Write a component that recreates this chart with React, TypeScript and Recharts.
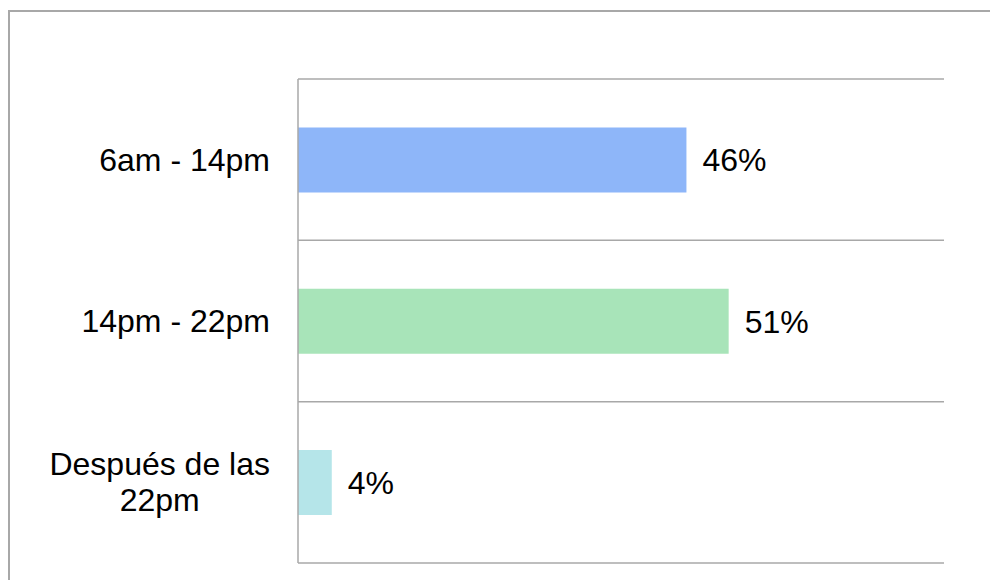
import React from 'react';
import { BarChart, Bar, XAxis, YAxis, CartesianGrid, Cell, LabelList } from 'recharts';

const categories = ['6am - 14pm', '14pm - 22pm', 'Después de las 22pm'];
const categoryLabels = [['6am - 14pm'], ['14pm - 22pm'], ['Después de las', '22pm']];
const values = [46, 51, 4];
const barColors = ['#8EB6F9', '#A8E4B9', '#B5E5E9'];

const data = categories.map((name, i) => ({ name, value: values[i], lines: categoryLabels[i] }));

const FONT = '"Liberation Sans", Arial, sans-serif';
const FONT_SIZE = 32;

let canvasCtx: CanvasRenderingContext2D | null = null;
const measure = (s: string) => {
    if (!canvasCtx) canvasCtx = document.createElement('canvas').getContext('2d');
    if (!canvasCtx) return s.length * FONT_SIZE * 0.5;
    canvasCtx.font = `${FONT_SIZE}px ${FONT}`;
    return canvasCtx.measureText(s).width;
};

const CategoryTick = (props: any) => {
    const { x, y, payload } = props;
    const row = data.find(d => d.name === payload.value);
    const lines = row ? row.lines : [payload.value];
    const lineHeight = 36;
    if (lines.length === 1) {
        return (
            <text x={x} y={y} dy={11} textAnchor="end" fontSize={FONT_SIZE} fontFamily={FONT} fill="#000">
                {lines[0]}
            </text>
        );
    }
    const maxW = Math.max(...lines.map(measure));
    const cx = x - maxW / 2;
    const startY = y - ((lines.length - 1) * lineHeight) / 2;
    return (
        <text textAnchor="middle" fontSize={FONT_SIZE} fontFamily={FONT} fill="#000">
            {lines.map((l: string, i: number) => (
                <tspan key={i} x={cx} y={startY + i * lineHeight} dy={11}>{l}</tspan>
            ))}
        </text>
    );
};

export default function App() {
    return (
        <div style={{ position: 'absolute', left: 0, top: 0, width: 990, height: 580, overflow: 'hidden', background: '#fff' }}>
            <div style={{ position: 'absolute', left: 8, top: 10, width: 1000, height: 600, border: '2px solid #a8a8a8' }} />
            <div style={{ position: 'absolute', left: 0, top: 0 }}>
                <BarChart
                    width={990}
                    height={580}
                    data={data}
                    layout="vertical"
                    margin={{ top: 79, right: 46, bottom: 17, left: 0 }}
                    barCategoryGap="30%"
                >
                    <CartesianGrid
                        vertical={false}
                        stroke="#a8a8a8"
                        strokeWidth={1.5}
                        horizontalCoordinatesGenerator={({ offset }: any) =>
                            [0, 1, 2, 3].map(i => offset.top + (i * offset.height) / 3)
                        }
                    />
                    <XAxis type="number" domain={[0, 76.5]} hide />
                    <YAxis
                        type="category"
                        dataKey="name"
                        width={298}
                        tickLine={false}
                        tickSize={0}
                        tickMargin={28}
                        axisLine={{ stroke: '#a8a8a8', strokeWidth: 1.5 }}
                        tick={<CategoryTick />}
                        interval={0}
                    />
                    <Bar dataKey="value" isAnimationActive={false}>
                        {data.map((d, i) => (
                            <Cell key={d.name} fill={barColors[i]} />
                        ))}
                        <LabelList
                            dataKey="value"
                            position="right"
                            offset={16}
                            formatter={(v: any) => `${v}%`}
                            fill="#000"
                            fontSize={FONT_SIZE}
                            fontFamily={FONT}
                        />
                    </Bar>
                </BarChart>
            </div>
        </div>
    );
}
